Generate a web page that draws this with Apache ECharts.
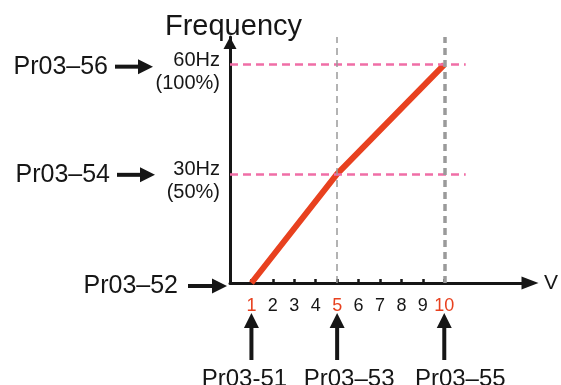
<!DOCTYPE html>
<html>
<head>
<meta charset="utf-8">
<script src="https://cdn.jsdelivr.net/npm/echarts@6/dist/echarts.min.js"></script>
<style>
  html, body { margin: 0; padding: 0; background: #fff; }
  #chart { width: 561px; height: 385px; }
</style>
</head>
<body>
<div id="chart"></div>
<script>
// curve: input voltage -> output frequency
const voltPoints = [1, 5, 10];
const freqPoints = [0, 30, 60];

// axis ticks
const voltTicks = [1, 2, 3, 4, 5, 6, 7, 8, 9, 10];
const redVoltTicks = [1, 5, 10];
const freqTicks = [30, 60];
const freqTickHz = ['30Hz', '60Hz'];
const freqTickPct = ['(50%)', '(100%)'];

// dashed guide lines
const guideVolts = [5, 10];
const guideFreqs = [30, 60];

// parameter call-outs
const leftParams = ['Pr03–52', 'Pr03–54', 'Pr03–56'];
const leftParamFreqs = [0, 30, 60];
const bottomParams = ['Pr03-51', 'Pr03–53', 'Pr03–55'];
const bottomParamVolts = [1, 5, 10];

const FONT = '"Liberation Sans", Arial, sans-serif';
const INK = '#161616';
const RED = '#e8411f';
const Y_MAX = 67.6;

const chart = echarts.init(document.getElementById('chart'));

const guideLines = [];
guideFreqs.forEach(function (f) {
  guideLines.push([
    { coord: [0, f], lineStyle: { color: '#f06ea6', width: 2.5, type: [8, 5] } },
    { coord: [11, f] }
  ]);
});
guideVolts.forEach(function (v, i) {
  guideLines.push([
    { coord: [v, 0], lineStyle: { color: '#9a9a9a', width: i == 0 ? 1.5 : 3.5, type: [7, 5] } },
    { coord: [v, Y_MAX] }
  ]);
});

chart.setOption({
  animation: false,
  textStyle: { fontFamily: FONT },
  grid: { left: 230, top: 37, width: 307, height: 246 },
  xAxis: {
    type: 'value',
    min: 0,
    max: 14,
    name: 'V',
    nameGap: 14,
    nameTextStyle: { fontSize: 21, color: INK },
    axisLine: {
      show: true,
      lineStyle: { color: INK, width: 3 },
      symbol: ['none', 'triangle'],
      symbolSize: [13, 17]
    },
    axisTick: {
      show: true,
      customValues: voltTicks,
      inside: true,
      length: 4,
      lineStyle: { color: INK, width: 2.5 }
    },
    axisLabel: {
      customValues: voltTicks,
      fontSize: 18,
      margin: 14,
      color: function (v) {
        return redVoltTicks.indexOf(Number(v)) >= 0 ? RED : INK;
      }
    },
    splitLine: { show: false }
  },
  yAxis: {
    type: 'value',
    min: 0,
    max: Y_MAX,
    name: 'Frequency',
    nameGap: -10,
    nameTextStyle: { fontSize: 29, color: INK, padding: [0, 0, 0, 7] },
    axisLine: {
      show: true,
      lineStyle: { color: INK, width: 3 },
      symbol: ['none', 'triangle'],
      symbolSize: [13, 12],
      symbolOffset: [0, -6]
    },
    axisTick: { show: false },
    axisLabel: {
      customValues: freqTicks,
      margin: 10,
      color: INK,
      formatter: function (v) {
        const i = freqTicks.indexOf(Number(v));
        return '{s| }\n{t|' + freqTickHz[i] + '}\n{t|' + freqTickPct[i] + '}';
      },
      rich: {
        s: { fontSize: 1, lineHeight: 14 },
        t: { fontSize: 20, lineHeight: 23, color: INK, align: 'right' }
      }
    },
    splitLine: { show: false }
  },
  series: [
    {
      name: 'guides',
      type: 'line',
      data: [],
      z: 1,
      clip: false,
      markLine: {
        silent: true,
        symbol: 'none',
        label: { show: false },
        data: guideLines
      }
    },
    {
      name: 'V/F',
      type: 'line',
      z: 3,
      symbol: 'none',
      data: voltPoints.map(function (v, i) { return [v, freqPoints[i]]; }),
      lineStyle: { color: RED, width: 6 }
    }
  ]
});

// call-out arrows and labels, anchored to the axis scales
const px = function (x, y) { return chart.convertToPixel({ gridIndex: 0 }, [x, y]); };

function arrow(x0, y0, x1, y1, head, halfW) {
  const len = Math.sqrt((x1 - x0) * (x1 - x0) + (y1 - y0) * (y1 - y0));
  const ux = (x1 - x0) / len, uy = (y1 - y0) / len;
  const bx = x1 - ux * head, by = y1 - uy * head;
  return [
    { type: 'line', shape: { x1: x0, y1: y0, x2: bx, y2: by }, style: { stroke: INK, lineWidth: 4 } },
    {
      type: 'polygon',
      shape: { points: [[bx - uy * halfW, by + ux * halfW], [x1, y1], [bx + uy * halfW, by - ux * halfW]] },
      style: { fill: INK }
    }
  ];
}

const graphics = [];
const leftArrowStart = [188, 117, 115];
const leftArrowEnd = [227, 155, 153];
const leftTextRight = [178, 110, 108];
const leftDy = [3, 1, 2];
leftParams.forEach(function (p, i) {
  const y = px(0, leftParamFreqs[i])[1] + leftDy[i];
  arrow(leftArrowStart[i], y, leftArrowEnd[i], y, 15, 7.5).forEach(function (g) { graphics.push(g); });
  graphics.push({
    type: 'text',
    style: { text: p, x: leftTextRight[i], y: y, fill: INK, fontSize: 25, fontFamily: FONT, align: 'right', verticalAlign: 'middle' }
  });
});

const bottomTextDx = [-7, 12, 16];
bottomParams.forEach(function (p, i) {
  const x = px(bottomParamVolts[i], 0)[0];
  arrow(x, 360, x, 313, 15, 7.5).forEach(function (g) { graphics.push(g); });
  graphics.push({
    type: 'text',
    style: { text: p, x: x + bottomTextDx[i], y: 379, fill: INK, fontSize: 24, fontFamily: FONT, align: 'center', verticalAlign: 'middle' }
  });
});

chart.setOption({ graphic: graphics });
</script>
</body>
</html>
